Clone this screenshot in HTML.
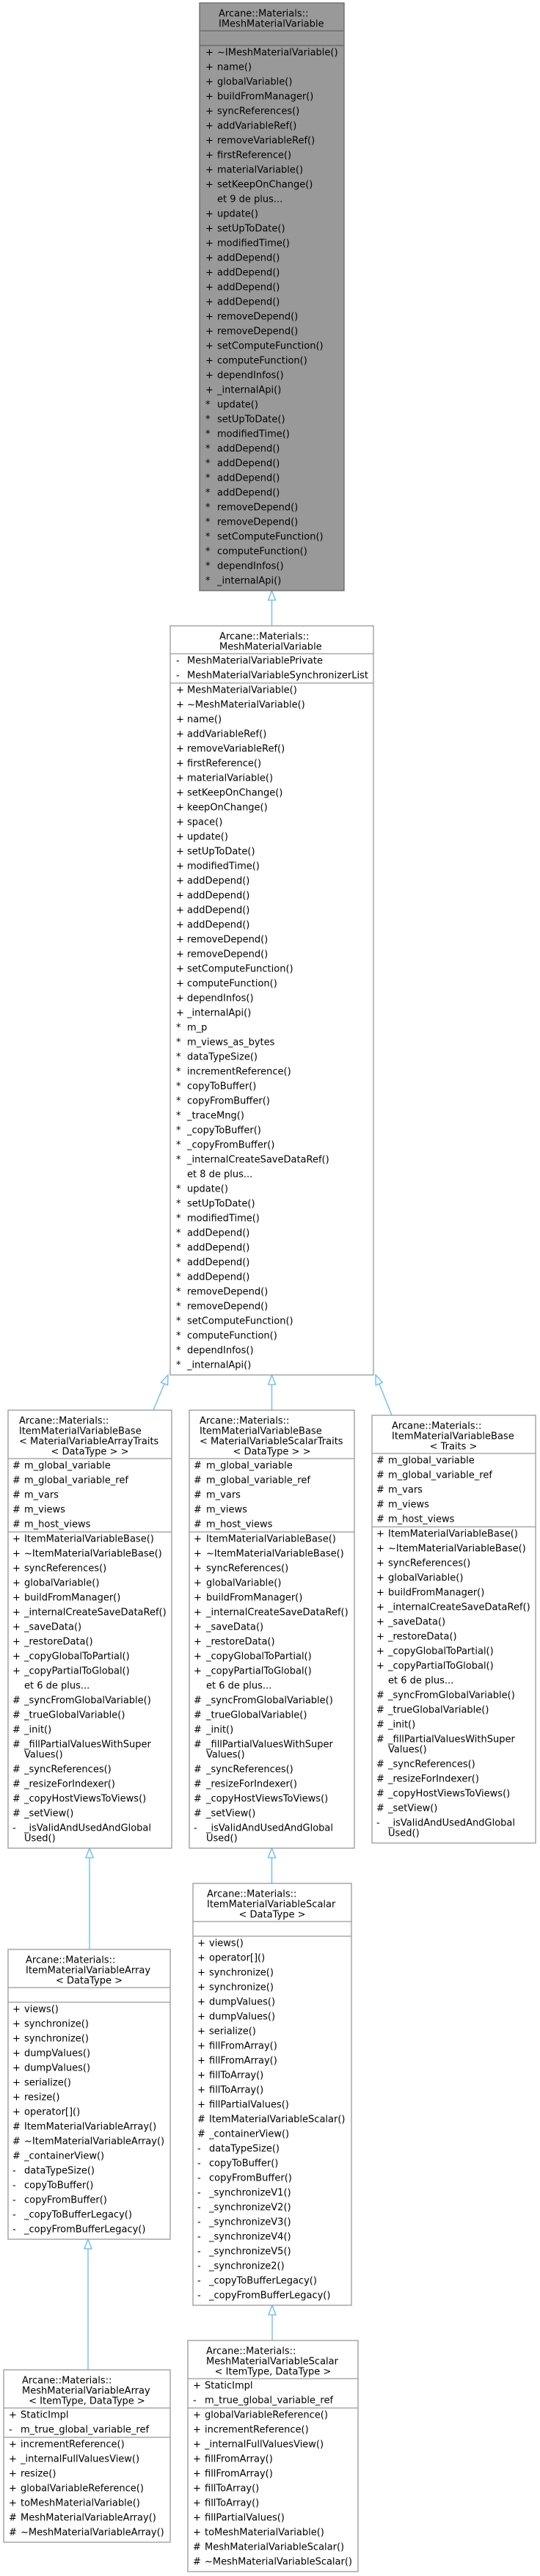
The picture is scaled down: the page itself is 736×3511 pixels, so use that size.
<!DOCTYPE html>
<html><head><meta charset="utf-8"><style>
html,body{margin:0;padding:0;background:#fff;}
svg{display:block;}
text{font-family:"DejaVu Sans","Liberation Sans",sans-serif;font-size:13px;fill:#000;}
.c{text-anchor:middle;}
.b{fill:#fff;stroke:#999;stroke-width:1.3;}
.g{fill:#999;stroke:#666;stroke-width:1.3;}
.s{stroke:#999;stroke-width:1.3;}
.sg{stroke:#666;stroke-width:1.3;}
.e{stroke:#63b8ff;stroke-width:1.3;fill:none;}
.a{stroke:#63b8ff;stroke-width:1.3;fill:#fff;}
</style></head><body>
<svg width="736" height="3511" viewBox="0 0 736 3511" xmlns="http://www.w3.org/2000/svg">
<!-- connectors -->
<line class="e" x1="370.5" y1="818" x2="370.5" y2="853"/>
<polygon class="a" points="370.5,805 365.5,818 375.5,818"/>
<line class="e" x1="209" y1="1922" x2="224" y2="1886"/>
<polygon class="a" points="229,1874 228.6,1887.9 219.4,1884.1"/>
<line class="e" x1="370.5" y1="1887" x2="370.5" y2="1922"/>
<polygon class="a" points="370.5,1874 365.5,1887 375.5,1887"/>
<line class="e" x1="534" y1="1929" x2="516.8" y2="1886"/>
<polygon class="a" points="512,1874 521.4,1884.2 512.2,1888"/>
<line class="e" x1="122" y1="2532" x2="122" y2="2657"/>
<polygon class="a" points="122,2519 117,2532 127,2532"/>
<line class="e" x1="370.5" y1="2532" x2="370.5" y2="2567"/>
<polygon class="a" points="370.5,2519 365.5,2532 375.5,2532"/>
<line class="e" x1="120" y1="3065" x2="120" y2="3230"/>
<polygon class="a" points="120,3052 115,3065 125,3065"/>
<line class="e" x1="371" y1="3155" x2="371" y2="3190"/>
<polygon class="a" points="371,3142 366,3155 376,3155"/>

<!-- Top box -->
<rect class="g" x="272" y="4" width="197" height="801"/>
<line class="sg" x1="272" y1="42" x2="469" y2="42"/>
<line class="sg" x1="272" y1="62" x2="469" y2="62"/>
<text x="298" y="22.5">Arcane::Materials::</text>
<text x="298" y="36.5">IMeshMaterialVariable</text>
<g>
<text x="280" y="75.5">+</text><text x="296" y="75.5">~IMeshMaterialVariable()</text>
<text x="280" y="95.5">+</text><text x="296" y="95.5">name()</text>
<text x="280" y="115.5">+</text><text x="296" y="115.5">globalVariable()</text>
<text x="280" y="135.5">+</text><text x="296" y="135.5">buildFromManager()</text>
<text x="280" y="155.5">+</text><text x="296" y="155.5">syncReferences()</text>
<text x="280" y="175.5">+</text><text x="296" y="175.5">addVariableRef()</text>
<text x="280" y="195.5">+</text><text x="296" y="195.5">removeVariableRef()</text>
<text x="280" y="215.5">+</text><text x="296" y="215.5">firstReference()</text>
<text x="280" y="235.5">+</text><text x="296" y="235.5">materialVariable()</text>
<text x="280" y="255.5">+</text><text x="296" y="255.5">setKeepOnChange()</text>
<text x="296" y="275.5">et 9 de plus...</text>
<text x="280" y="295.5">+</text><text x="296" y="295.5">update()</text>
<text x="280" y="315.5">+</text><text x="296" y="315.5">setUpToDate()</text>
<text x="280" y="335.5">+</text><text x="296" y="335.5">modifiedTime()</text>
<text x="280" y="355.5">+</text><text x="296" y="355.5">addDepend()</text>
<text x="280" y="375.5">+</text><text x="296" y="375.5">addDepend()</text>
<text x="280" y="395.5">+</text><text x="296" y="395.5">addDepend()</text>
<text x="280" y="415.5">+</text><text x="296" y="415.5">addDepend()</text>
<text x="280" y="435.5">+</text><text x="296" y="435.5">removeDepend()</text>
<text x="280" y="455.5">+</text><text x="296" y="455.5">removeDepend()</text>
<text x="280" y="475.5">+</text><text x="296" y="475.5">setComputeFunction()</text>
<text x="280" y="495.5">+</text><text x="296" y="495.5">computeFunction()</text>
<text x="280" y="515.5">+</text><text x="296" y="515.5">dependInfos()</text>
<text x="280" y="535.5">+</text><text x="296" y="535.5">_internalApi()</text>
<text x="280" y="555.5">*</text><text x="296" y="555.5">update()</text>
<text x="280" y="575.5">*</text><text x="296" y="575.5">setUpToDate()</text>
<text x="280" y="595.5">*</text><text x="296" y="595.5">modifiedTime()</text>
<text x="280" y="615.5">*</text><text x="296" y="615.5">addDepend()</text>
<text x="280" y="635.5">*</text><text x="296" y="635.5">addDepend()</text>
<text x="280" y="655.5">*</text><text x="296" y="655.5">addDepend()</text>
<text x="280" y="675.5">*</text><text x="296" y="675.5">addDepend()</text>
<text x="280" y="695.5">*</text><text x="296" y="695.5">removeDepend()</text>
<text x="280" y="715.5">*</text><text x="296" y="715.5">removeDepend()</text>
<text x="280" y="735.5">*</text><text x="296" y="735.5">setComputeFunction()</text>
<text x="280" y="755.5">*</text><text x="296" y="755.5">computeFunction()</text>
<text x="280" y="775.5">*</text><text x="296" y="775.5">dependInfos()</text>
<text x="280" y="795.5">*</text><text x="296" y="795.5">_internalApi()</text>
</g>

<!-- Middle box -->
<rect class="b" x="232" y="853" width="277" height="1021"/>
<line class="s" x1="232" y1="891" x2="509" y2="891"/>
<line class="s" x1="232" y1="931" x2="509" y2="931"/>
<text x="299" y="871.5">Arcane::Materials::</text>
<text x="299" y="885.5">MeshMaterialVariable</text>
<text x="240" y="904.5">-</text><text x="255" y="904.5">MeshMaterialVariablePrivate</text>
<text x="240" y="924.5">-</text><text x="255" y="924.5">MeshMaterialVariableSynchronizerList</text>
<g>
<text x="240" y="944.5">+</text><text x="255" y="944.5">MeshMaterialVariable()</text>
<text x="240" y="964.5">+</text><text x="255" y="964.5">~MeshMaterialVariable()</text>
<text x="240" y="984.5">+</text><text x="255" y="984.5">name()</text>
<text x="240" y="1004.5">+</text><text x="255" y="1004.5">addVariableRef()</text>
<text x="240" y="1024.5">+</text><text x="255" y="1024.5">removeVariableRef()</text>
<text x="240" y="1044.5">+</text><text x="255" y="1044.5">firstReference()</text>
<text x="240" y="1064.5">+</text><text x="255" y="1064.5">materialVariable()</text>
<text x="240" y="1084.5">+</text><text x="255" y="1084.5">setKeepOnChange()</text>
<text x="240" y="1104.5">+</text><text x="255" y="1104.5">keepOnChange()</text>
<text x="240" y="1124.5">+</text><text x="255" y="1124.5">space()</text>
<text x="240" y="1144.5">+</text><text x="255" y="1144.5">update()</text>
<text x="240" y="1164.5">+</text><text x="255" y="1164.5">setUpToDate()</text>
<text x="240" y="1184.5">+</text><text x="255" y="1184.5">modifiedTime()</text>
<text x="240" y="1204.5">+</text><text x="255" y="1204.5">addDepend()</text>
<text x="240" y="1224.5">+</text><text x="255" y="1224.5">addDepend()</text>
<text x="240" y="1244.5">+</text><text x="255" y="1244.5">addDepend()</text>
<text x="240" y="1264.5">+</text><text x="255" y="1264.5">addDepend()</text>
<text x="240" y="1284.5">+</text><text x="255" y="1284.5">removeDepend()</text>
<text x="240" y="1304.5">+</text><text x="255" y="1304.5">removeDepend()</text>
<text x="240" y="1324.5">+</text><text x="255" y="1324.5">setComputeFunction()</text>
<text x="240" y="1344.5">+</text><text x="255" y="1344.5">computeFunction()</text>
<text x="240" y="1364.5">+</text><text x="255" y="1364.5">dependInfos()</text>
<text x="240" y="1384.5">+</text><text x="255" y="1384.5">_internalApi()</text>
<text x="240" y="1404.5">*</text><text x="255" y="1404.5">m_p</text>
<text x="240" y="1424.5">*</text><text x="255" y="1424.5">m_views_as_bytes</text>
<text x="240" y="1444.5">*</text><text x="255" y="1444.5">dataTypeSize()</text>
<text x="240" y="1464.5">*</text><text x="255" y="1464.5">incrementReference()</text>
<text x="240" y="1484.5">*</text><text x="255" y="1484.5">copyToBuffer()</text>
<text x="240" y="1504.5">*</text><text x="255" y="1504.5">copyFromBuffer()</text>
<text x="240" y="1524.5">*</text><text x="255" y="1524.5">_traceMng()</text>
<text x="240" y="1544.5">*</text><text x="255" y="1544.5">_copyToBuffer()</text>
<text x="240" y="1564.5">*</text><text x="255" y="1564.5">_copyFromBuffer()</text>
<text x="240" y="1584.5">*</text><text x="255" y="1584.5">_internalCreateSaveDataRef()</text>
<text x="255" y="1604.5">et 8 de plus...</text>
<text x="240" y="1624.5">*</text><text x="255" y="1624.5">update()</text>
<text x="240" y="1644.5">*</text><text x="255" y="1644.5">setUpToDate()</text>
<text x="240" y="1664.5">*</text><text x="255" y="1664.5">modifiedTime()</text>
<text x="240" y="1684.5">*</text><text x="255" y="1684.5">addDepend()</text>
<text x="240" y="1704.5">*</text><text x="255" y="1704.5">addDepend()</text>
<text x="240" y="1724.5">*</text><text x="255" y="1724.5">addDepend()</text>
<text x="240" y="1744.5">*</text><text x="255" y="1744.5">addDepend()</text>
<text x="240" y="1764.5">*</text><text x="255" y="1764.5">removeDepend()</text>
<text x="240" y="1784.5">*</text><text x="255" y="1784.5">removeDepend()</text>
<text x="240" y="1804.5">*</text><text x="255" y="1804.5">setComputeFunction()</text>
<text x="240" y="1824.5">*</text><text x="255" y="1824.5">computeFunction()</text>
<text x="240" y="1844.5">*</text><text x="255" y="1844.5">dependInfos()</text>
<text x="240" y="1864.5">*</text><text x="255" y="1864.5">_internalApi()</text>
</g>

<!-- Left lower box -->
<rect class="b" x="11" y="1922" width="223" height="597"/>
<line class="s" x1="11" y1="1988" x2="234" y2="1988"/>
<line class="s" x1="11" y1="2088" x2="234" y2="2088"/>
<text x="26" y="1940.5">Arcane::Materials::</text>
<text x="26" y="1954.5">ItemMaterialVariableBase</text>
<text x="26" y="1968.5">&lt; MaterialVariableArrayTraits</text>
<text class="c" x="122.5" y="1982.5">&lt; DataType &gt; &gt;</text>
<g>
<text x="17" y="2001.5">#</text><text x="33" y="2001.5">m_global_variable</text>
<text x="17" y="2021.5">#</text><text x="33" y="2021.5">m_global_variable_ref</text>
<text x="17" y="2041.5">#</text><text x="33" y="2041.5">m_vars</text>
<text x="17" y="2061.5">#</text><text x="33" y="2061.5">m_views</text>
<text x="17" y="2081.5">#</text><text x="33" y="2081.5">m_host_views</text>
<text x="17" y="2101.5">+</text><text x="33" y="2101.5">ItemMaterialVariableBase()</text>
<text x="17" y="2121.5">+</text><text x="33" y="2121.5">~ItemMaterialVariableBase()</text>
<text x="17" y="2141.5">+</text><text x="33" y="2141.5">syncReferences()</text>
<text x="17" y="2161.5">+</text><text x="33" y="2161.5">globalVariable()</text>
<text x="17" y="2181.5">+</text><text x="33" y="2181.5">buildFromManager()</text>
<text x="17" y="2201.5">+</text><text x="33" y="2201.5">_internalCreateSaveDataRef()</text>
<text x="17" y="2221.5">+</text><text x="33" y="2221.5">_saveData()</text>
<text x="17" y="2241.5">+</text><text x="33" y="2241.5">_restoreData()</text>
<text x="17" y="2261.5">+</text><text x="33" y="2261.5">_copyGlobalToPartial()</text>
<text x="17" y="2281.5">+</text><text x="33" y="2281.5">_copyPartialToGlobal()</text>
<text x="33" y="2301.5">et 6 de plus...</text>
<text x="17" y="2321.5">#</text><text x="33" y="2321.5">_syncFromGlobalVariable()</text>
<text x="17" y="2341.5">#</text><text x="33" y="2341.5">_trueGlobalVariable()</text>
<text x="17" y="2361.5">#</text><text x="33" y="2361.5">_init()</text>
<text x="17" y="2381.5">#</text><text x="33" y="2381.5">_fillPartialValuesWithSuper</text>
<text x="33" y="2395.5">Values()</text>
<text x="17" y="2415.5">#</text><text x="33" y="2415.5">_syncReferences()</text>
<text x="17" y="2435.5">#</text><text x="33" y="2435.5">_resizeForIndexer()</text>
<text x="17" y="2455.5">#</text><text x="33" y="2455.5">_copyHostViewsToViews()</text>
<text x="17" y="2475.5">#</text><text x="33" y="2475.5">_setView()</text>
<text x="17" y="2495.5">-</text><text x="33" y="2495.5">_isValidAndUsedAndGlobal</text>
<text x="33" y="2509.5">Used()</text>
</g>

<!-- Center lower box -->
<rect class="b" x="258" y="1922" width="225" height="597"/>
<line class="s" x1="258" y1="1988" x2="483" y2="1988"/>
<line class="s" x1="258" y1="2088" x2="483" y2="2088"/>
<text x="272" y="1940.5">Arcane::Materials::</text>
<text x="272" y="1954.5">ItemMaterialVariableBase</text>
<text x="272" y="1968.5">&lt; MaterialVariableScalarTraits</text>
<text class="c" x="370.5" y="1982.5">&lt; DataType &gt; &gt;</text>
<g>
<text x="264" y="2001.5">#</text><text x="281" y="2001.5">m_global_variable</text>
<text x="264" y="2021.5">#</text><text x="281" y="2021.5">m_global_variable_ref</text>
<text x="264" y="2041.5">#</text><text x="281" y="2041.5">m_vars</text>
<text x="264" y="2061.5">#</text><text x="281" y="2061.5">m_views</text>
<text x="264" y="2081.5">#</text><text x="281" y="2081.5">m_host_views</text>
<text x="264" y="2101.5">+</text><text x="281" y="2101.5">ItemMaterialVariableBase()</text>
<text x="264" y="2121.5">+</text><text x="281" y="2121.5">~ItemMaterialVariableBase()</text>
<text x="264" y="2141.5">+</text><text x="281" y="2141.5">syncReferences()</text>
<text x="264" y="2161.5">+</text><text x="281" y="2161.5">globalVariable()</text>
<text x="264" y="2181.5">+</text><text x="281" y="2181.5">buildFromManager()</text>
<text x="264" y="2201.5">+</text><text x="281" y="2201.5">_internalCreateSaveDataRef()</text>
<text x="264" y="2221.5">+</text><text x="281" y="2221.5">_saveData()</text>
<text x="264" y="2241.5">+</text><text x="281" y="2241.5">_restoreData()</text>
<text x="264" y="2261.5">+</text><text x="281" y="2261.5">_copyGlobalToPartial()</text>
<text x="264" y="2281.5">+</text><text x="281" y="2281.5">_copyPartialToGlobal()</text>
<text x="281" y="2301.5">et 6 de plus...</text>
<text x="264" y="2321.5">#</text><text x="281" y="2321.5">_syncFromGlobalVariable()</text>
<text x="264" y="2341.5">#</text><text x="281" y="2341.5">_trueGlobalVariable()</text>
<text x="264" y="2361.5">#</text><text x="281" y="2361.5">_init()</text>
<text x="264" y="2381.5">#</text><text x="281" y="2381.5">_fillPartialValuesWithSuper</text>
<text x="281" y="2395.5">Values()</text>
<text x="264" y="2415.5">#</text><text x="281" y="2415.5">_syncReferences()</text>
<text x="264" y="2435.5">#</text><text x="281" y="2435.5">_resizeForIndexer()</text>
<text x="264" y="2455.5">#</text><text x="281" y="2455.5">_copyHostViewsToViews()</text>
<text x="264" y="2475.5">#</text><text x="281" y="2475.5">_setView()</text>
<text x="264" y="2495.5">-</text><text x="281" y="2495.5">_isValidAndUsedAndGlobal</text>
<text x="281" y="2509.5">Used()</text>
</g>

<!-- Right lower box -->
<rect class="b" x="507" y="1929" width="223" height="583"/>
<line class="s" x1="507" y1="1981" x2="730" y2="1981"/>
<line class="s" x1="507" y1="2081" x2="730" y2="2081"/>
<text x="534" y="1947.5">Arcane::Materials::</text>
<text x="534" y="1961.5">ItemMaterialVariableBase</text>
<text class="c" x="618" y="1975.5">&lt; Traits &gt;</text>
<g>
<text x="513" y="1994.5">#</text><text x="529" y="1994.5">m_global_variable</text>
<text x="513" y="2014.5">#</text><text x="529" y="2014.5">m_global_variable_ref</text>
<text x="513" y="2034.5">#</text><text x="529" y="2034.5">m_vars</text>
<text x="513" y="2054.5">#</text><text x="529" y="2054.5">m_views</text>
<text x="513" y="2074.5">#</text><text x="529" y="2074.5">m_host_views</text>
<text x="513" y="2094.5">+</text><text x="529" y="2094.5">ItemMaterialVariableBase()</text>
<text x="513" y="2114.5">+</text><text x="529" y="2114.5">~ItemMaterialVariableBase()</text>
<text x="513" y="2134.5">+</text><text x="529" y="2134.5">syncReferences()</text>
<text x="513" y="2154.5">+</text><text x="529" y="2154.5">globalVariable()</text>
<text x="513" y="2174.5">+</text><text x="529" y="2174.5">buildFromManager()</text>
<text x="513" y="2194.5">+</text><text x="529" y="2194.5">_internalCreateSaveDataRef()</text>
<text x="513" y="2214.5">+</text><text x="529" y="2214.5">_saveData()</text>
<text x="513" y="2234.5">+</text><text x="529" y="2234.5">_restoreData()</text>
<text x="513" y="2254.5">+</text><text x="529" y="2254.5">_copyGlobalToPartial()</text>
<text x="513" y="2274.5">+</text><text x="529" y="2274.5">_copyPartialToGlobal()</text>
<text x="529" y="2294.5">et 6 de plus...</text>
<text x="513" y="2314.5">#</text><text x="529" y="2314.5">_syncFromGlobalVariable()</text>
<text x="513" y="2334.5">#</text><text x="529" y="2334.5">_trueGlobalVariable()</text>
<text x="513" y="2354.5">#</text><text x="529" y="2354.5">_init()</text>
<text x="513" y="2374.5">#</text><text x="529" y="2374.5">_fillPartialValuesWithSuper</text>
<text x="529" y="2388.5">Values()</text>
<text x="513" y="2408.5">#</text><text x="529" y="2408.5">_syncReferences()</text>
<text x="513" y="2428.5">#</text><text x="529" y="2428.5">_resizeForIndexer()</text>
<text x="513" y="2448.5">#</text><text x="529" y="2448.5">_copyHostViewsToViews()</text>
<text x="513" y="2468.5">#</text><text x="529" y="2468.5">_setView()</text>
<text x="513" y="2488.5">-</text><text x="529" y="2488.5">_isValidAndUsedAndGlobal</text>
<text x="529" y="2502.5">Used()</text>
</g>

<!-- ItemMaterialVariableArray -->
<rect class="b" x="11" y="2657" width="221" height="395"/>
<line class="s" x1="11" y1="2709" x2="232" y2="2709"/>
<line class="s" x1="11" y1="2729" x2="232" y2="2729"/>
<text x="35" y="2675.5">Arcane::Materials::</text>
<text x="35" y="2689.5">ItemMaterialVariableArray</text>
<text class="c" x="121.5" y="2703.5">&lt; DataType &gt;</text>
<g>
<text x="17" y="2742.5">+</text><text x="33" y="2742.5">views()</text>
<text x="17" y="2762.5">+</text><text x="33" y="2762.5">synchronize()</text>
<text x="17" y="2782.5">+</text><text x="33" y="2782.5">synchronize()</text>
<text x="17" y="2802.5">+</text><text x="33" y="2802.5">dumpValues()</text>
<text x="17" y="2822.5">+</text><text x="33" y="2822.5">dumpValues()</text>
<text x="17" y="2842.5">+</text><text x="33" y="2842.5">serialize()</text>
<text x="17" y="2862.5">+</text><text x="33" y="2862.5">resize()</text>
<text x="17" y="2882.5">+</text><text x="33" y="2882.5">operator[]()</text>
<text x="17" y="2902.5">#</text><text x="33" y="2902.5">ItemMaterialVariableArray()</text>
<text x="17" y="2922.5">#</text><text x="33" y="2922.5">~ItemMaterialVariableArray()</text>
<text x="17" y="2942.5">#</text><text x="33" y="2942.5">_containerView()</text>
<text x="17" y="2962.5">-</text><text x="33" y="2962.5">dataTypeSize()</text>
<text x="17" y="2982.5">-</text><text x="33" y="2982.5">copyToBuffer()</text>
<text x="17" y="3002.5">-</text><text x="33" y="3002.5">copyFromBuffer()</text>
<text x="17" y="3022.5">-</text><text x="33" y="3022.5">_copyToBufferLegacy()</text>
<text x="17" y="3042.5">-</text><text x="33" y="3042.5">_copyFromBufferLegacy()</text>
</g>

<!-- ItemMaterialVariableScalar -->
<rect class="b" x="263" y="2567" width="216" height="575"/>
<line class="s" x1="263" y1="2619" x2="479" y2="2619"/>
<line class="s" x1="263" y1="2639" x2="479" y2="2639"/>
<text x="282" y="2585.5">Arcane::Materials::</text>
<text x="282" y="2599.5">ItemMaterialVariableScalar</text>
<text class="c" x="371" y="2613.5">&lt; DataType &gt;</text>
<g>
<text x="269" y="2652.5">+</text><text x="285" y="2652.5">views()</text>
<text x="269" y="2672.5">+</text><text x="285" y="2672.5">operator[]()</text>
<text x="269" y="2692.5">+</text><text x="285" y="2692.5">synchronize()</text>
<text x="269" y="2712.5">+</text><text x="285" y="2712.5">synchronize()</text>
<text x="269" y="2732.5">+</text><text x="285" y="2732.5">dumpValues()</text>
<text x="269" y="2752.5">+</text><text x="285" y="2752.5">dumpValues()</text>
<text x="269" y="2772.5">+</text><text x="285" y="2772.5">serialize()</text>
<text x="269" y="2792.5">+</text><text x="285" y="2792.5">fillFromArray()</text>
<text x="269" y="2812.5">+</text><text x="285" y="2812.5">fillFromArray()</text>
<text x="269" y="2832.5">+</text><text x="285" y="2832.5">fillToArray()</text>
<text x="269" y="2852.5">+</text><text x="285" y="2852.5">fillToArray()</text>
<text x="269" y="2872.5">+</text><text x="285" y="2872.5">fillPartialValues()</text>
<text x="269" y="2892.5">#</text><text x="285" y="2892.5">ItemMaterialVariableScalar()</text>
<text x="269" y="2912.5">#</text><text x="285" y="2912.5">_containerView()</text>
<text x="269" y="2932.5">-</text><text x="285" y="2932.5">dataTypeSize()</text>
<text x="269" y="2952.5">-</text><text x="285" y="2952.5">copyToBuffer()</text>
<text x="269" y="2972.5">-</text><text x="285" y="2972.5">copyFromBuffer()</text>
<text x="269" y="2992.5">-</text><text x="285" y="2992.5">_synchronizeV1()</text>
<text x="269" y="3012.5">-</text><text x="285" y="3012.5">_synchronizeV2()</text>
<text x="269" y="3032.5">-</text><text x="285" y="3032.5">_synchronizeV3()</text>
<text x="269" y="3052.5">-</text><text x="285" y="3052.5">_synchronizeV4()</text>
<text x="269" y="3072.5">-</text><text x="285" y="3072.5">_synchronizeV5()</text>
<text x="269" y="3092.5">-</text><text x="285" y="3092.5">_synchronize2()</text>
<text x="269" y="3112.5">-</text><text x="285" y="3112.5">_copyToBufferLegacy()</text>
<text x="269" y="3132.5">-</text><text x="285" y="3132.5">_copyFromBufferLegacy()</text>
</g>

<!-- MeshMaterialVariableArray -->
<rect class="b" x="5" y="3230" width="227" height="235"/>
<line class="s" x1="5" y1="3282" x2="232" y2="3282"/>
<line class="s" x1="5" y1="3322" x2="232" y2="3322"/>
<text x="30" y="3248.5">Arcane::Materials::</text>
<text x="30" y="3262.5">MeshMaterialVariableArray</text>
<text class="c" x="118.5" y="3276.5">&lt; ItemType, DataType &gt;</text>
<g>
<text x="12" y="3295.5">+</text><text x="28" y="3295.5">StaticImpl</text>
<text x="12" y="3315.5">-</text><text x="28" y="3315.5">m_true_global_variable_ref</text>
<text x="12" y="3335.5">+</text><text x="28" y="3335.5">incrementReference()</text>
<text x="12" y="3355.5">+</text><text x="28" y="3355.5">_internalFullValuesView()</text>
<text x="12" y="3375.5">+</text><text x="28" y="3375.5">resize()</text>
<text x="12" y="3395.5">+</text><text x="28" y="3395.5">globalVariableReference()</text>
<text x="12" y="3415.5">+</text><text x="28" y="3415.5">toMeshMaterialVariable()</text>
<text x="12" y="3435.5">#</text><text x="28" y="3435.5">MeshMaterialVariableArray()</text>
<text x="12" y="3455.5">#</text><text x="28" y="3455.5">~MeshMaterialVariableArray()</text>
</g>

<!-- MeshMaterialVariableScalar -->
<rect class="b" x="256" y="3190" width="232" height="315"/>
<line class="s" x1="256" y1="3242" x2="488" y2="3242"/>
<line class="s" x1="256" y1="3282" x2="488" y2="3282"/>
<text x="281" y="3208.5">Arcane::Materials::</text>
<text x="281" y="3222.5">MeshMaterialVariableScalar</text>
<text class="c" x="372" y="3236.5">&lt; ItemType, DataType &gt;</text>
<g>
<text x="263" y="3255.5">+</text><text x="279" y="3255.5">StaticImpl</text>
<text x="263" y="3275.5">-</text><text x="279" y="3275.5">m_true_global_variable_ref</text>
<text x="263" y="3295.5">+</text><text x="279" y="3295.5">globalVariableReference()</text>
<text x="263" y="3315.5">+</text><text x="279" y="3315.5">incrementReference()</text>
<text x="263" y="3335.5">+</text><text x="279" y="3335.5">_internalFullValuesView()</text>
<text x="263" y="3355.5">+</text><text x="279" y="3355.5">fillFromArray()</text>
<text x="263" y="3375.5">+</text><text x="279" y="3375.5">fillFromArray()</text>
<text x="263" y="3395.5">+</text><text x="279" y="3395.5">fillToArray()</text>
<text x="263" y="3415.5">+</text><text x="279" y="3415.5">fillToArray()</text>
<text x="263" y="3435.5">+</text><text x="279" y="3435.5">fillPartialValues()</text>
<text x="263" y="3455.5">+</text><text x="279" y="3455.5">toMeshMaterialVariable()</text>
<text x="263" y="3475.5">#</text><text x="279" y="3475.5">MeshMaterialVariableScalar()</text>
<text x="263" y="3495.5">#</text><text x="279" y="3495.5">~MeshMaterialVariableScalar()</text>
</g>
</svg>
</body></html>
